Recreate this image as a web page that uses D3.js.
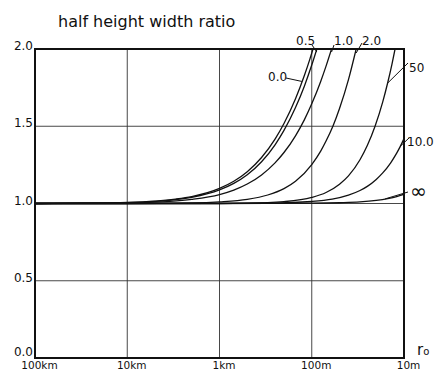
<!DOCTYPE html>
<html>
<head>
<meta charset="utf-8">
<script src="https://cdn.jsdelivr.net/npm/d3@7"></script>
<style>
  html, body { margin: 0; padding: 0; background: #fff; }
  svg { display: block; }
  text { font-family: "DejaVu Sans", "Liberation Sans", sans-serif; fill: #111; }
</style>
</head>
<body>
<svg id="chart" width="437" height="372"></svg>
<script>
// r0 in metres against the ratio of half-height widths
const xTickValues = [100000, 10000, 1000, 100, 10];
const xTickLabels = ["100km", "10km", "1km", "100m", "10m"];
const yTickValues = [0, 0.5, 1.0, 1.5, 2.0];
const yTickLabels = ["0.0", "0.5", "1.0", "1.5", "2.0"];

const seriesNames = ["0.0", "0.5", "1.0", "2.0", "50", "10.0", "∞"];

const curve00 = [[100000,1.0],[30000,1.002],[10000,1.007],[5000,1.016],[3000,1.029],[2000,1.045],[1000,1.098],[700,1.144],[500,1.206],[350,1.298],[250,1.417],[200,1.518],[150,1.678],[120,1.83],[105,1.933],[97,2.0]];
const curve05 = [[100000,1.0],[30000,1.002],[10000,1.006],[5000,1.014],[2000,1.040],[1000,1.088],[700,1.13],[500,1.186],[350,1.270],[250,1.380],[200,1.473],[150,1.621],[120,1.761],[100,1.896],[88,2.0]];
const curve10 = [[100000,1.0],[10000,1.004],[5000,1.009],[2000,1.027],[1000,1.058],[700,1.087],[500,1.126],[350,1.185],[250,1.263],[200,1.330],[150,1.438],[120,1.543],[100,1.645],[80,1.790],[70,1.889],[61,2.0]];
const curve20 = [[100000,1.0],[10000,1.0],[2000,1.004],[1000,1.011],[500,1.027],[300,1.055],[200,1.096],[150,1.144],[100,1.252],[80,1.339],[70,1.404],[59,1.5],[50,1.615],[40,1.802],[33,2.0]];
const curve50 = [[100000,1.0],[1000,1.001],[300,1.006],[200,1.012],[100,1.039],[70,1.071],[50,1.125],[40,1.179],[30,1.283],[25,1.375],[20.6,1.5],[17,1.658],[15,1.783],[13.5,1.902],[12.5,2.0]];
const curve100 = [[100000,1.0],[1000,1.0],[300,1.002],[100,1.013],[60,1.028],[40,1.054],[30,1.084],[25,1.111],[20,1.156],[17,1.198],[14,1.262],[12,1.326],[11,1.368],[10,1.42]];
const curveInf = [[100000,1.0],[1000,1.0],[100,1.002],[50,1.005],[30,1.01],[20,1.02],[15,1.032],[12,1.045],[10,1.06]];

const seriesData = [curve00, curve05, curve10, curve20, curve50, curve100, curveInf];

const svg = d3.select("#chart");
const W = 437, H = 372;
const margin = { left: 35, right: 33, top: 49, bottom: 14 };
const x0 = margin.left, x1 = W - margin.right;
const y0 = H - margin.bottom, y1 = margin.top;

const x = d3.scaleLog().domain([100000, 10]).range([x0, x1]);
const y = d3.scaleLinear().domain([0, 2]).range([y0, y1]);

// curves are clipped to the frame
svg.append("defs").append("clipPath").attr("id", "frame")
  .append("rect").attr("x", x0).attr("y", y1).attr("width", x1 - x0).attr("height", y0 - y1);

// grid
const grid = svg.append("g").attr("stroke", "#333").attr("stroke-width", 0.9);
grid.selectAll("line.v").data(xTickValues.slice(1, -1)).join("line")
  .attr("x1", d => x(d)).attr("x2", d => x(d)).attr("y1", y1).attr("y2", y0);
grid.selectAll("line.h").data(yTickValues.slice(1, -1)).join("line")
  .attr("x1", x0).attr("x2", x1).attr("y1", d => y(d)).attr("y2", d => y(d));

// tick labels; the frame is drawn separately. Value labels sit on their grid line,
// the bottom one a little higher so it clears the distance labels.
const yAxis = d3.axisLeft(y).tickValues(yTickValues).tickFormat((d, i) => yTickLabels[i]).tickSize(0).tickPadding(2);
svg.append("g").attr("transform", `translate(${x0},0)`).call(yAxis)
  .call(g => g.select(".domain").remove())
  .call(g => g.selectAll("text").attr("font-size", 12).attr("dy", d => d === 0 ? "-0.25em" : "0.05em")
    .attr("font-family", "DejaVu Sans, sans-serif").attr("fill", "#111"));

const xAxis = d3.axisBottom(x).tickValues(xTickValues).tickFormat((d, i) => xTickLabels[i]).tickSize(0).tickPadding(4);
svg.append("g").attr("transform", `translate(0,${y0})`).call(xAxis)
  .call(g => g.select(".domain").remove())
  .call(g => g.selectAll("text").attr("font-size", 10.5).attr("dy", "0.62em")
    .attr("font-family", "DejaVu Sans, sans-serif").attr("fill", "#111").attr("dx", 4));

// curves
const line = d3.line().x(d => x(d[0])).y(d => y(d[1])).curve(d3.curveMonotoneX);
svg.append("g").attr("clip-path", "url(#frame)")
  .selectAll("path").data(seriesData).join("path")
  .attr("d", line).attr("fill", "none").attr("stroke", "#111").attr("stroke-width", 1.3);

// frame
svg.append("rect").attr("x", x0).attr("y", y1).attr("width", x1 - x0).attr("height", y0 - y1)
  .attr("fill", "none").attr("stroke", "#111").attr("stroke-width", 2);

// title and axis name
svg.append("text").attr("x", 58).attr("y", 27).attr("font-size", 16).text("half height width ratio");
const r0 = svg.append("text").attr("x", 417).attr("y", y0 - 3).attr("font-size", 15).text("r");
r0.append("tspan").attr("font-size", 10).text("o");

// curve labels with leader lines
function endOf(s) { return s[s.length - 1]; }
function label(text, tx, ty, lx1, ly1, lx2, ly2, size) {
  svg.append("text").attr("x", tx).attr("y", ty).attr("font-size", size || 12).text(text);
  svg.append("line").attr("x1", lx1).attr("y1", ly1).attr("x2", lx2).attr("y2", ly2)
    .attr("stroke", "#111").attr("stroke-width", 1);
}
label(seriesNames[1], 296, 45, 312, 45, x(endOf(curve05)[0]), y(2) + 3);
label(seriesNames[2], 334, 45, 334, 45, x(endOf(curve10)[0]), y(2) + 3);
label(seriesNames[3], 362, 45, 362, 43, x(endOf(curve20)[0]), y(2) + 4);
label(seriesNames[4], 409, 72, 408, 63, x(15), y(1.78));
label(seriesNames[5], 407, 146, 409, 138, x(11), y(1.37));
label(seriesNames[6], 410, 198, 408, 192, x(16), y(1.03), 20);
label(seriesNames[0], 268, 81, 286, 78, x(128), y(1.79));
</script>
</body>
</html>
